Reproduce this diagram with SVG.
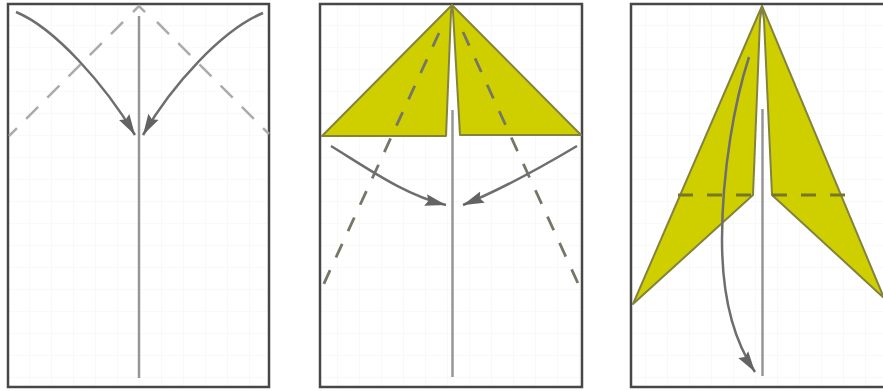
<svg xmlns="http://www.w3.org/2000/svg" width="883" height="391" viewBox="0 0 883 391">
<style>
.frame{fill:none;stroke:#474747;stroke-width:2.500}
.axis{fill:none;stroke:#969696;stroke-width:2.500}
.fold{fill:none;stroke:#ababab;stroke-width:2.500;stroke-dasharray:17 13}
.fold2{fill:none;stroke:#757568;stroke-width:2.800;stroke-dasharray:15 14}
.foldon{fill:none;stroke:#77772a;stroke-width:3;stroke-dasharray:15 14}
.flap{fill:#cfcf00;stroke:#83833c;stroke-width:2;stroke-linejoin:round}
.arrow{fill:none;stroke:#6e6e6e;stroke-width:2.500;marker-end:url(#head)}
</style>
<defs>
<marker id="head" markerUnits="userSpaceOnUse" markerWidth="24" markerHeight="16" refX="21" refY="8" orient="auto">
<path d="M0 2L21 8L0 14L3 8Z" fill="#636363"/>
</marker>
<pattern id="g" width="22" height="22" patternUnits="userSpaceOnUse" x="8" y="4">
<path d="M22 0V22M0 22H22" fill="none" stroke="#f3f3ee" stroke-width="1"/>
</pattern>
</defs>
<rect width="883" height="391" fill="#fff"/>
<g id="panel-1">
<rect x="8" y="4" width="261" height="383" fill="url(#g)"/>
<rect class="frame" x="8" y="4" width="261" height="383"/>
<path class="fold" d="M123 22L9 136"/>
<path class="fold" d="M157 22L269 134"/>
<path class="fold" d="M133 12L139 6L146 13"/>
<path class="axis" d="M139 16V378"/>
</g>
<g id="panel-2">
<rect x="320" y="4" width="262" height="383" fill="url(#g)"/>
<rect class="frame" x="320" y="4" width="262" height="383"/>
<path class="flap" d="M452 5L322 136H446L451 12Z"/>
<path class="flap" d="M452 5L581 135H460L453 12Z"/>
<path class="fold2" d="M439 33L321 290"/>
<path class="fold2" d="M463 32L582 292"/>
<path class="axis" d="M452.500 110V377"/>
</g>
<g id="panel-3">
<rect x="631" y="4" width="252" height="383" fill="url(#g)"/>
<path class="frame" d="M883 4H631V387H883"/>
<path class="flap" d="M762 6L633 304L753 195L760 20Z"/>
<path class="flap" d="M762 6L884 298L772 195L764 20Z"/>
<path class="foldon" d="M678 195H753M772 195H845"/>
<path class="axis" d="M762.500 109V376"/>
</g>
<g id="connectors">
<path class="arrow" d="M16 12C55 28 105 85 135 135"/>
<path class="arrow" d="M263 13C222 30 172 85 143 135"/>
<path class="arrow" d="M331 146C370 170 405 195 446 205"/>
<path class="arrow" d="M577 146C540 168 500 190 463 205"/>
<path class="arrow" d="M749 57C735 100 722 170 722 240C722 290 730 335 755 372"/>
</g>
</svg>
